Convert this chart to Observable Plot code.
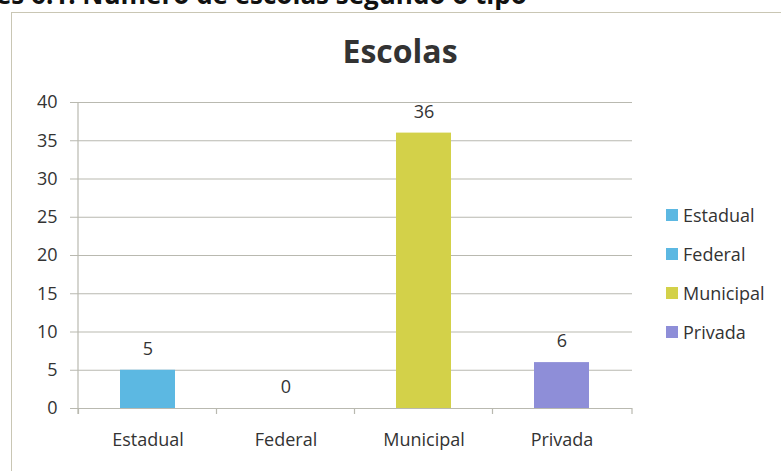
<!DOCTYPE html>
<html>
<head>
<meta charset="utf-8">
<script src="https://cdn.jsdelivr.net/npm/d3@7"></script>
<script src="https://cdn.jsdelivr.net/npm/@observablehq/plot@0.6"></script>
<style>
  html, body { margin: 0; padding: 0; background: #fff; }
  #wrap { position: relative; width: 781px; height: 471px; overflow: hidden; font-family: "Open Sans", sans-serif; color: #333; }
  #top { position: absolute; left: -4px; top: -24px; font: bold 26px "Open Sans", sans-serif; color: #111; white-space: nowrap; }
  #box { position: absolute; left: 11px; top: 12px; width: 800px; height: 500px; border: 1.5px solid #c9c6b4; }
  #title { position: absolute; left: 0; width: 800px; top: 29px; text-align: center; font: bold 32px "Open Sans", sans-serif; color: #333; }
  #chart { position: absolute; left: 0; top: 0; }
  #legend { position: absolute; left: 666px; top: 195px; }
  .li { display: flex; align-items: center; height: 39px; font-size: 18px; }
  .sw { width: 12px; height: 12px; margin-right: 5px; }
</style>
</head>
<body>
<div id="wrap">
  <div id="top">es 6.1. Número de escolas segundo o tipo</div>
  <div id="box"></div>
  <div id="title">Escolas</div>
  <div id="chart"></div>
  <div id="legend"></div>
</div>
<script>
const categories = ["Estadual", "Federal", "Municipal", "Privada"];
const values = [5, 0, 36, 6];
const colors = ["#5cb8e2", "#5cb8e2", "#d3d149", "#8e8ed8"];
const yTicks = [0, 5, 10, 15, 20, 25, 30, 35, 40];

const data = categories.map((c, i) => ({cat: c, value: values[i], color: colors[i]}));

const axisLines = (index, scales, values_, dims) => {
  const x = scales.x, y = scales.y;
  const step = x.step();
  const g = d3.create("svg:g").attr("stroke", "#b9b9b0").attr("stroke-width", 1.2);
  const left = dims.marginLeft, right = dims.width - dims.marginRight;
  g.append("line").attr("x1", left).attr("x2", left).attr("y1", y(40)).attr("y2", y(0) + 6);
  const bounds = categories.map(c => x(c) - (step - x.bandwidth()) / 2).concat([right]);
  for (const b of bounds) {
    g.append("line").attr("x1", b).attr("x2", b).attr("y1", y(0)).attr("y2", y(0) + 6);
  }
  return g.node();
};

const chart = Plot.plot({
  width: 781,
  height: 471,
  marginLeft: 78,
  marginRight: 149,
  marginTop: 102,
  marginBottom: 63,
  style: {fontFamily: "'Open Sans', sans-serif", fontSize: "18px", color: "#333", background: "transparent"},
  x: {domain: categories, paddingInner: 0.6, paddingOuter: 0.3, label: null},
  y: {domain: [0, 40], ticks: yTicks, label: null},
  marks: [
    Plot.ruleY(yTicks, {y: d => d, stroke: "#b9b9b0", strokeWidth: 1.2, insetLeft: -8}),
    Plot.barY(data, {x: "cat", y: "value", fill: "color"}),
    Plot.text(data, {x: "cat", y: "value", text: d => String(d.value), dy: -21, fontSize: 18, fill: "#333"}),
    axisLines,
    Plot.axisY(yTicks, {tickSize: 0, tickPadding: 21, fontSize: 18, fill: "#333"}),
    Plot.axisX({tickSize: 0, tickPadding: 25, fontSize: 18, fill: "#333"})
  ]
});
document.getElementById("chart").appendChild(chart);

const legend = d3.select("#legend");
categories.forEach((c, i) => {
  const row = legend.append("div").attr("class", "li");
  row.append("div").attr("class", "sw").style("background", colors[i]);
  row.append("span").text(c);
});
</script>
</body>
</html>
